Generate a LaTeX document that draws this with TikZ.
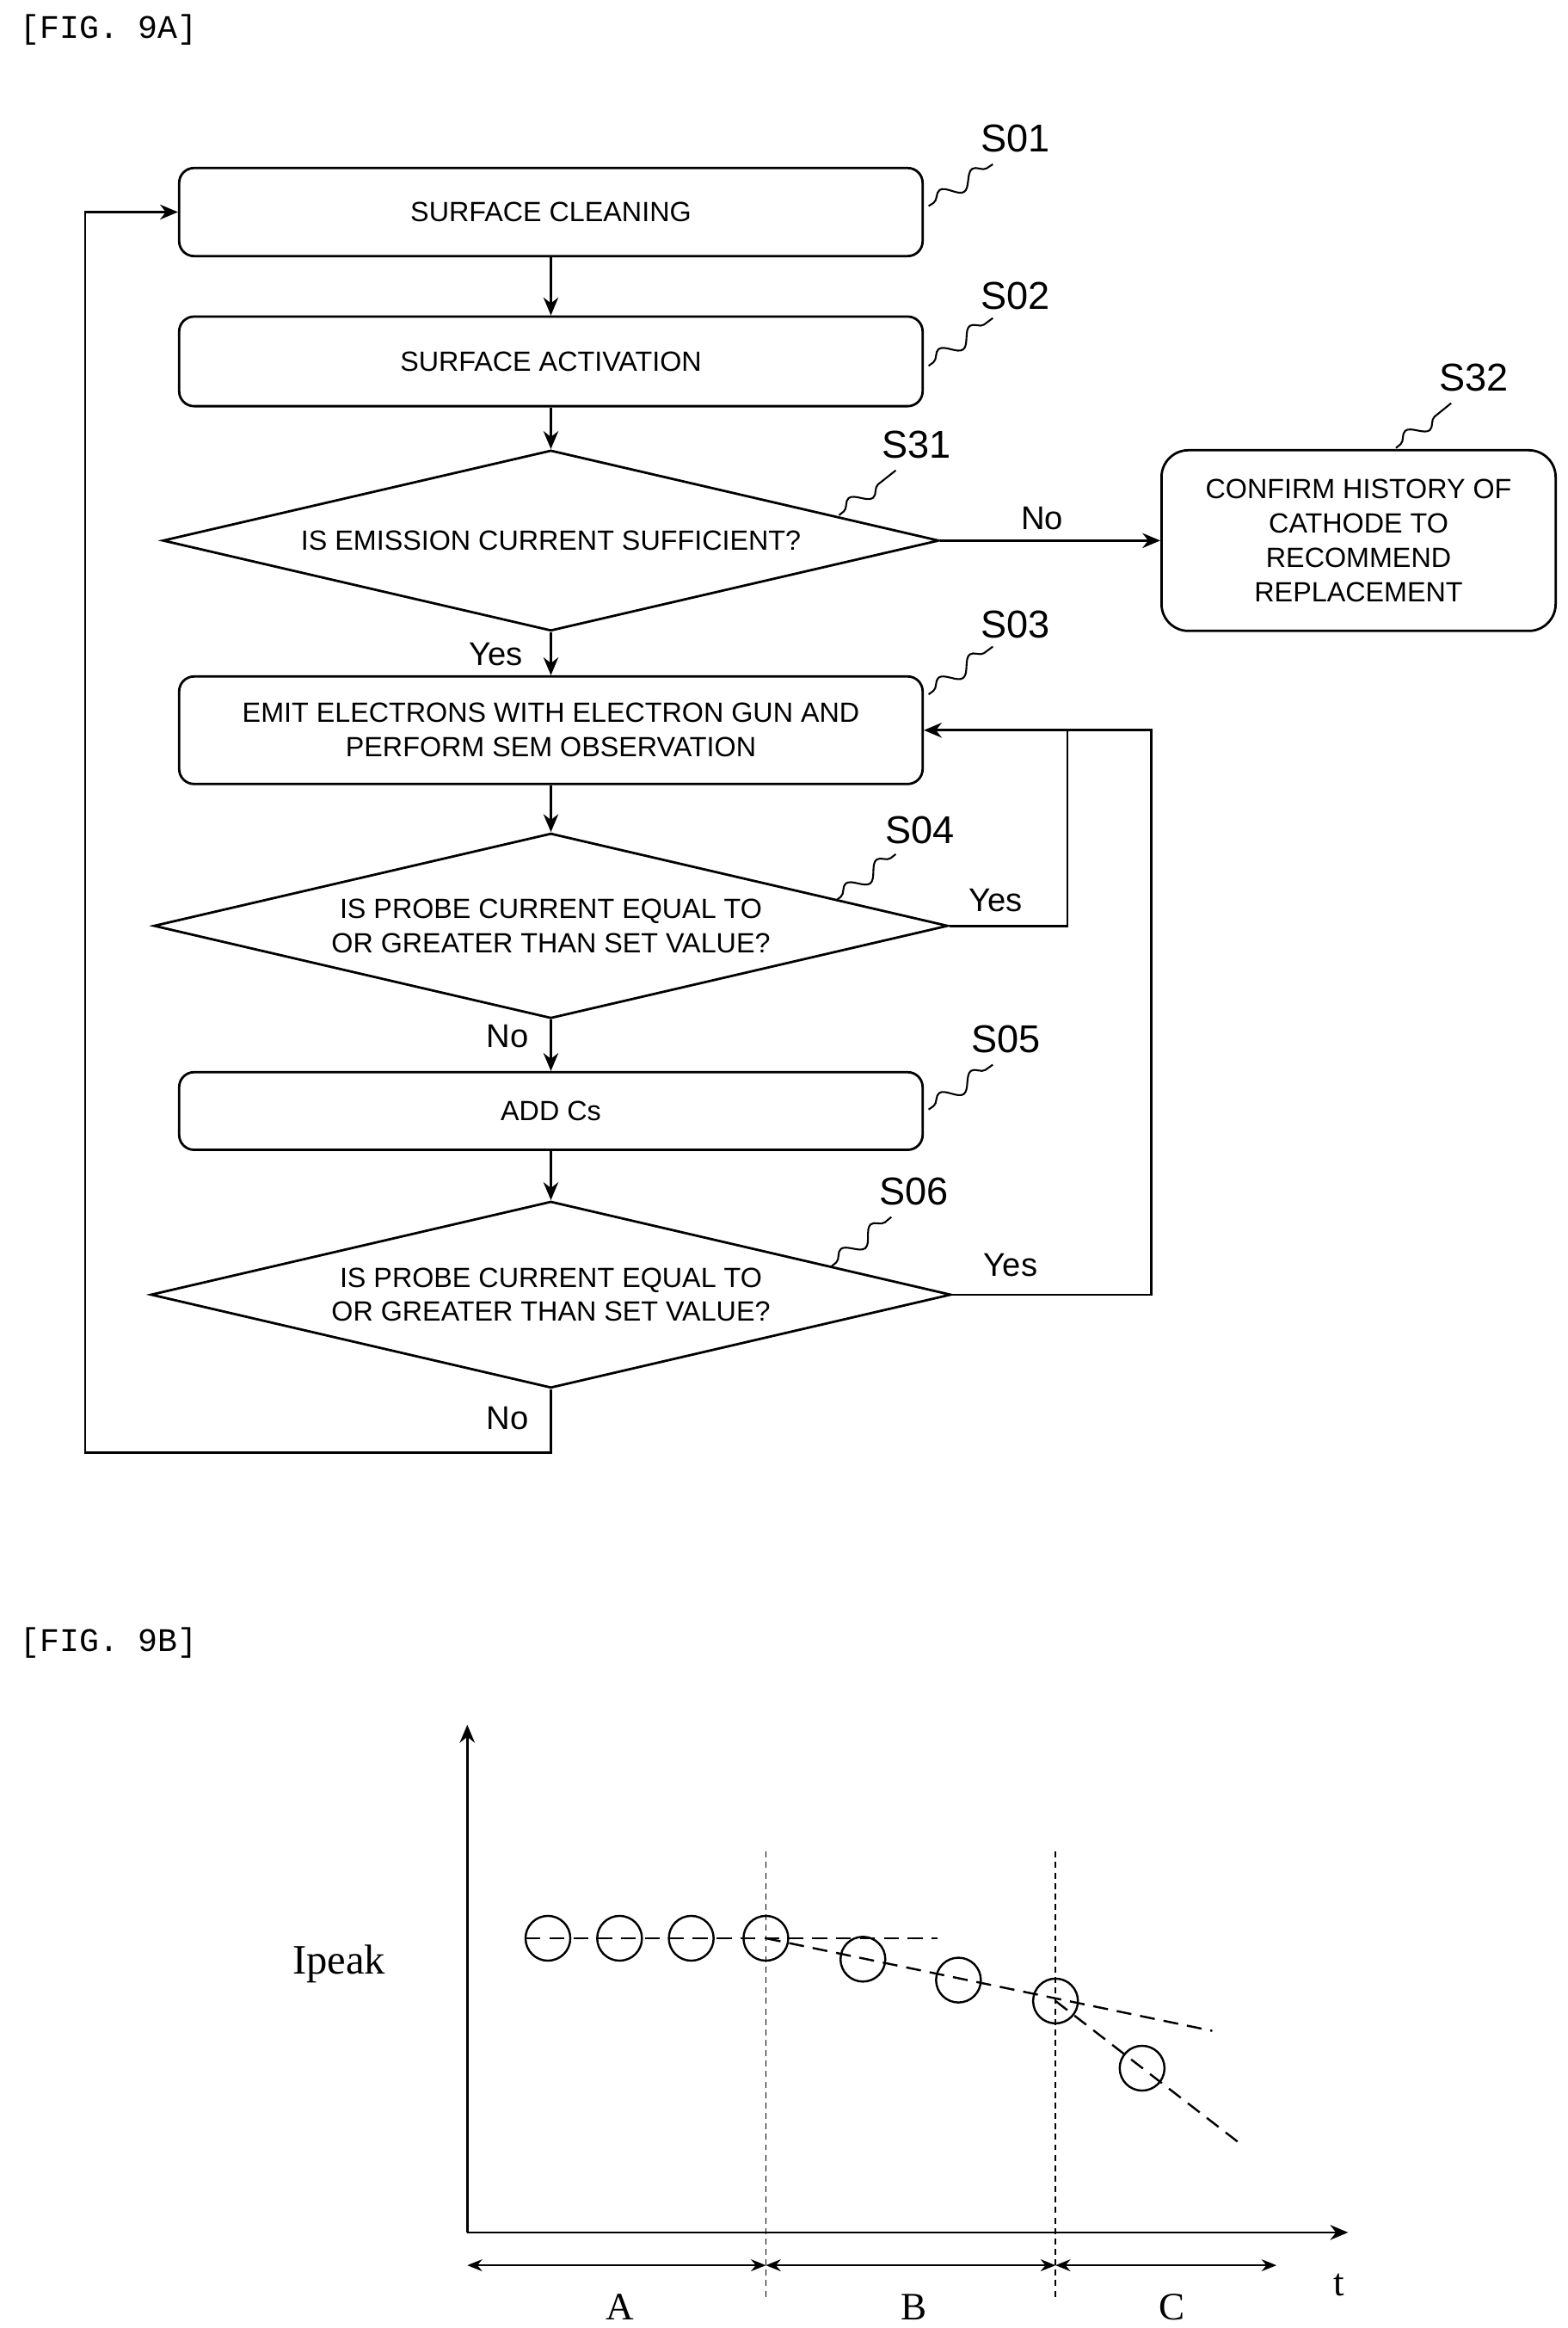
\documentclass[tikz,border=0pt]{standalone}
\usepackage{fontspec}
\setmainfont{Liberation Sans}
\newfontfamily\serifr{Liberation Serif}
\newfontfamily\monor{Liberation Mono}
\usetikzlibrary{shapes.geometric,arrows.meta,decorations.pathmorphing}
\begin{document}
\begin{tikzpicture}[x=0.5pt,y=-0.5pt,line width=0.8pt,
  box/.style={draw,rounded corners=5pt,align=center,font=\fontsize{9.3}{11.5}\selectfont},
  dia/.style={draw,diamond,aspect=4.3,inner sep=0pt,align=center,font=\fontsize{9.3}{11.5}\selectfont},
  arr/.style={-{Stealth[length=6pt,width=5pt]}},
  lab/.style={font=\fontsize{11}{13}\selectfont},
  stp/.style={font=\fontsize{13}{15}\selectfont},
  sq/.style={decorate,decoration={snake,amplitude=2.5pt,segment length=13pt,pre length=2pt,post length=2pt},line width=0.6pt},
  circ/.style={draw,circle,minimum size=15pt,inner sep=0pt,line width=0.7pt},
  dsh/.style={dashed,dash pattern=on 5pt off 3pt,line width=0.7pt}]
\useasboundingbox (0,0) rectangle (1050,1559);
\node[anchor=west,font=\monor\fontsize{11}{13}\selectfont] (f9a) at (6,20) {[FIG.\ 9A]};
% boxes
\node[box,minimum width=249pt,minimum height=29.5pt] (s01) at (369,142) {SURFACE CLEANING};
\node[box,minimum width=249pt,minimum height=30pt] (s02) at (369,242) {SURFACE ACTIVATION};
\node[dia,minimum width=260pt,minimum height=60.5pt] (s31) at (369,362) {IS EMISSION CURRENT SUFFICIENT?};
\node[box,rounded corners=9pt,minimum width=132pt,minimum height=60.5pt] (s32) at (910,362) {CONFIRM HISTORY OF\\CATHODE TO\\RECOMMEND\\REPLACEMENT};
\node[box,minimum width=249pt,minimum height=36pt] (s03) at (369,489) {EMIT ELECTRONS WITH ELECTRON GUN AND\\PERFORM SEM OBSERVATION};
\node[dia,minimum width=266pt,minimum height=62pt] (s04) at (369,620) {IS PROBE CURRENT EQUAL TO\\OR GREATER THAN SET VALUE?};
\node[box,minimum width=249pt,minimum height=26pt] (s05) at (369,744) {ADD Cs};
\node[dia,minimum width=268pt,minimum height=62.5pt] (s06) at (369,867) {IS PROBE CURRENT EQUAL TO\\OR GREATER THAN SET VALUE?};
% connectors
\draw[arr] (s01) -- (s02);
\draw[arr] (s02) -- (s31);
\draw[arr] (s31) -- (s03);
\draw[arr] (s31.east) -- (s32.west);
\draw[arr] (s03) -- (s04);
\draw[arr] (s04) -- (s05);
\draw[arr] (s05) -- (s06);
\coordinate (r4) at (715,620);
\coordinate (r6) at (771,867);
\coordinate (bl) at (57,973);
\draw (s04.east) -- (r4) -- (715,489);
\draw[arr] (s06.east) -- (r6) |- (s03.east);
\draw[arr] (s06.south) |- (bl) |- (s01.west);
% labels
\node[lab] (y1) at (332,438) {Yes};
\node[lab] (n1) at (698,347) {No};
\node[lab] (y2) at (667,603) {Yes};
\node[lab] (n2) at (340,694) {No};
\node[lab] (y3) at (677,847) {Yes};
\node[lab] (n3) at (340,950) {No};
% step labels
\node[stp] (t01) at (680,93) {S01};
\node[stp] (t02) at (680,198) {S02};
\node[stp] (t31) at (614,298) {S31};
\node[stp] (t32) at (987,253) {S32};
\node[stp] (t03) at (680,418) {S03};
\node[stp] (t04) at (616,556) {S04};
\node[stp] (t05) at (674,696) {S05};
\node[stp] (t06) at (612,798) {S06};
\draw[sq] (622,138) -- (665,110);
\draw[sq] (622,245) -- (665,213);
\draw[sq] (562,345) -- (600,315);
\draw[sq] (935,300) -- (972,270);
\draw[sq] (622,465) -- (665,433);
\draw[sq] (560,603) -- (600,572);
\draw[sq] (622,743) -- (665,713);
\draw[sq] (557,848) -- (597,815);
% FIG 9B
\node[anchor=west,font=\monor\fontsize{11}{13}\selectfont] (f9b) at (6,1100) {[FIG.\ 9B]};
\coordinate (o) at (313,1495);
\draw[arr] (o) -- (313,1155);
\draw[arr] (o) -- (903,1495);
\draw[dash pattern=on 2pt off 1.5pt,line width=0.5pt] (513,1240) -- (513,1540);
\draw[dash pattern=on 2pt off 1.5pt,line width=0.5pt] (707,1240) -- (707,1540);
\draw[{Stealth[length=5pt,width=4pt]}-{Stealth[length=5pt,width=4pt]},line width=0.6pt] (313,1517) -- (513,1517);
\draw[{Stealth[length=5pt,width=4pt]}-{Stealth[length=5pt,width=4pt]},line width=0.6pt] (513,1517) -- (707,1517);
\draw[{Stealth[length=5pt,width=4pt]}-{Stealth[length=5pt,width=4pt]},line width=0.6pt] (707,1517) -- (855,1517);
\node[font=\serifr\fontsize{13}{15}\selectfont] (la) at (415,1545) {A};
\node[font=\serifr\fontsize{13}{15}\selectfont] (lb) at (612,1545) {B};
\node[font=\serifr\fontsize{13}{15}\selectfont] (lc) at (785,1545) {C};
\node[font=\serifr\fontsize{13}{15}\selectfont] (lt) at (897,1530) {t};
\node[font=\serifr\fontsize{14}{16}\selectfont] (ip) at (227,1315) {Ipeak};
\foreach \n/\x/\y in {1/367/1298,2/415/1298,3/463/1298,4/513/1298,5/578/1312,6/642/1326,7/707/1340,8/765/1385}
  \node[circ] (c\n) at (\x,\y) {};
\draw[dsh] (352,1298) -- (628,1298);
\draw[dsh] (513,1298) -- (812,1360);
\draw[dsh] (707,1340) -- (830,1435);
\end{tikzpicture}
\end{document}
